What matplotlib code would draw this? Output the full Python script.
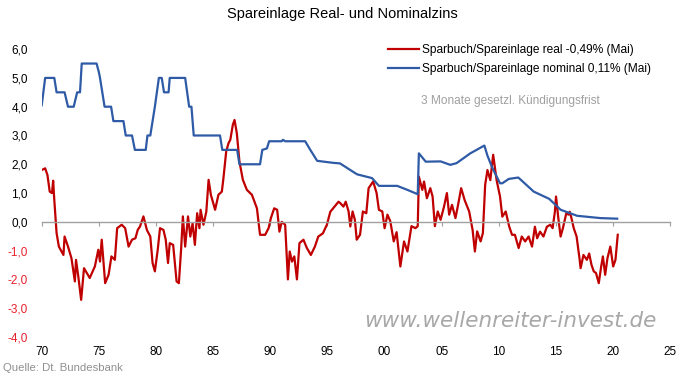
import matplotlib
matplotlib.use("Agg")
import matplotlib.pyplot as plt

plt.rcParams['font.family'] = ['Liberation Sans', 'DejaVu Sans']

title = "Spareinlage Real- und Nominalzins"
label_real = "Sparbuch/Spareinlage real -0,49% (Mai)"
label_nom = "Sparbuch/Spareinlage nominal 0,11% (Mai)"
note = "3 Monate gesetzl. Kündigungsfrist"
source = "Quelle: Dt. Bundesbank"
watermark = "www.wellenreiter-invest.de"

nom_years = [1970.0, 1970.3, 1971.1, 1971.3, 1972.0, 1972.3, 1972.8, 1973.1, 1973.35, 1973.5,
             1974.8, 1975.0, 1975.1, 1975.5, 1976.07, 1976.27, 1977.15, 1977.35, 1977.9, 1978.15,
             1979.1, 1979.25, 1979.5, 1979.7, 1979.9, 1980.25, 1980.5, 1980.7, 1981.1, 1981.2,
             1982.55, 1982.9, 1983.1, 1983.3, 1985.6, 1985.8, 1987.1, 1987.3, 1989.1, 1989.3,
             1989.7, 1989.9, 1991.0, 1991.1, 1991.3, 1993.05, 1993.5, 1994.1, 1995.5, 1996.1,
             1997.0, 1997.6, 1998.9, 1999.5, 2001.1, 2002.0, 2002.9, 2003.0, 2003.6, 2004.9,
             2005.75, 2006.3, 2007.5, 2008.73, 2009.0, 2009.4, 2010.1, 2010.3, 2010.86, 2011.7,
             2013.05, 2014.4, 2015.4, 2016.85, 2018.9, 2020.35]
nom_vals = [4.05, 5.0, 5.0, 4.5, 4.5, 4.0, 4.0, 4.5, 4.5, 5.5,
            5.5, 5.2, 5.0, 4.0, 4.0, 3.5, 3.5, 3.0, 3.0, 2.5,
            2.5, 3.0, 3.0, 3.5, 4.0, 5.0, 5.0, 4.5, 4.5, 5.0,
            5.0, 4.0, 4.0, 3.0, 3.0, 2.5, 2.5, 2.0, 2.0, 2.5,
            2.55, 2.8, 2.8, 2.85, 2.8, 2.8, 2.5, 2.12, 2.05, 2.03,
            1.8, 1.65, 1.52, 1.25, 1.25, 1.11, 0.96, 2.38, 2.09, 2.1,
            1.98, 2.04, 2.38, 2.65, 2.3, 1.9, 1.34, 1.34, 1.49, 1.54,
            1.05, 0.80, 0.42, 0.21, 0.13, 0.11]

real_years = [1970.0, 1970.3, 1970.5, 1970.7, 1970.9, 1971.0, 1971.1, 1971.3, 1971.5, 1971.9,
              1972.0, 1972.3, 1972.6, 1972.9, 1973.0, 1973.2, 1973.45, 1973.7, 1974.2, 1974.65,
              1974.95, 1975.1, 1975.25, 1975.55, 1975.85, 1976.1, 1976.4, 1976.6, 1977.0, 1977.3,
              1977.6, 1977.9, 1978.2, 1978.4, 1978.6, 1978.9, 1979.2, 1979.5, 1979.7, 1979.9,
              1980.15, 1980.35, 1980.65, 1980.85, 1981.05, 1981.2, 1981.5, 1981.8, 1982.0, 1982.2,
              1982.35, 1982.55, 1982.8, 1983.0, 1983.2, 1983.4, 1983.6, 1983.8, 1983.9, 1984.15,
              1984.4, 1984.6, 1984.8, 1985.17, 1985.46, 1985.76, 1985.9, 1986.14, 1986.34, 1986.5,
              1986.72, 1986.87, 1987.07, 1987.3, 1987.6, 1987.95, 1988.39, 1988.83, 1989.1, 1989.55,
              1989.85, 1990.05, 1990.34, 1990.6, 1990.8, 1991.0, 1991.3, 1991.54, 1991.7, 1991.9,
              1992.1, 1992.33, 1992.55, 1992.9, 1993.2, 1993.55, 1993.9, 1994.2, 1994.6, 1994.95,
              1995.25, 1995.5, 1995.97, 1996.12, 1996.4, 1996.6, 1996.85, 1997.0, 1997.2, 1997.4,
              1997.56, 1997.85, 1998.1, 1998.4, 1998.6, 1999.0, 1999.3, 1999.5, 1999.8, 2000.0,
              2000.25, 2000.5, 2000.8, 2001.05, 2001.38, 2001.7, 2002.0, 2002.35, 2002.7, 2002.9,
              2003.0, 2003.3, 2003.45, 2003.7, 2004.0, 2004.2, 2004.4, 2004.65, 2004.9, 2005.2,
              2005.45, 2005.65, 2005.9, 2006.2, 2006.4, 2006.7, 2007.0, 2007.4, 2007.7, 2007.9,
              2008.1, 2008.4, 2008.6, 2008.8, 2009.0, 2009.25, 2009.5, 2009.8, 2010.1, 2010.3,
              2010.6, 2010.9, 2011.15, 2011.4, 2011.73, 2012.0, 2012.3, 2012.6, 2012.9, 2013.15,
              2013.35, 2013.6, 2013.9, 2014.2, 2014.5, 2014.7, 2014.9, 2015.0, 2015.2, 2015.4,
              2015.6, 2015.9, 2016.1, 2016.2, 2016.35, 2016.55, 2016.8, 2017.05, 2017.15, 2017.4,
              2017.7, 2017.9, 2018.1, 2018.3, 2018.5, 2018.74, 2018.95, 2019.1, 2019.3, 2019.5,
              2019.75, 2020.0, 2020.2, 2020.4]
real_vals = [1.8, 1.86, 1.63, 1.05, 1.0, 1.43, 0.76, -0.39, -0.86, -1.15,
             -0.51, -0.86, -1.26, -2.07, -1.32, -1.9, -2.71, -1.61, -1.95, -1.55,
             -0.97, -1.38, -0.62, -2.13, -1.84, -1.2, -1.32, -0.22, -0.1, -0.22,
             -0.86, -0.62, -0.57, -0.28, -0.16, 0.19, -0.28, -0.51, -1.43, -1.72,
             -0.97, -0.22, -0.28, -0.62, -1.43, -0.74, -0.8, -2.07, -2.13, -0.92,
             0.19, -0.86, 0.19, -0.51, -0.05, -0.8, 0.3, -0.22, 0.42, -0.1,
             0.35, 1.46, 0.94, 0.42, 0.94, 1.05, 1.52, 2.44, 2.73, 2.85,
             3.37, 3.54, 3.08, 2.09, 1.46, 1.11, 0.94, 0.47, -0.45, -0.45,
             -0.22, 0.13, 0.47, 0.42, -0.34, 0.0, -0.1, -2.0, -1.03, -1.38,
             -1.2, -2.0, -0.74, -0.62, -0.91, -1.15, -0.86, -0.51, -0.4, -0.1,
             0.35, 0.47, 0.7, 0.65, 0.53, 0.70, 0.36, -0.16, 0.36, 0.07,
             -0.62, -0.45, 0.36, 0.3, 1.17, 1.4, 1.0, 0.42, 0.36, -0.22,
             0.25, 0.02, -0.68, -0.36, -1.55, -0.68, -1.03, -0.15, -0.22, -0.15,
             1.57, 1.11, 1.4, 0.82, 1.17, 0.88, -0.15, 0.36, 0.07, 0.53,
             1.0, 0.25, 0.59, 0.13, 0.53, 1.17, 0.76, 0.36, -0.28, -1.03,
             -0.33, -0.68, -0.39, 1.29, 1.8, 1.45, 2.33, 1.45, 0.88, 0.18,
             0.36, -0.16, -0.45, -0.45, -0.91, -0.51, -0.68, -0.51, -0.86, -0.17,
             -0.57, -0.34, -0.51, -0.17, -0.1, -0.22, 0.35, 0.88, 0.13, -0.51,
             -0.22, 0.3, 0.25, 0.35, 0.13, -0.22, -0.51, -1.26, -1.61, -1.15,
             -1.32, -1.1, -1.49, -1.72, -1.78, -2.13, -1.55, -1.2, -1.84, -1.26,
             -0.86, -1.55, -1.32, -0.45]

x_ticks = [1970, 1975, 1980, 1985, 1990, 1995, 2000, 2005, 2010, 2015, 2020, 2025]
x_labels = ["70", "75", "80", "85", "90", "95", "00", "05", "10", "15", "20", "25"]
y_ticks = [-4, -3, -2, -1, 0, 1, 2, 3, 4, 5, 6]
y_labels = ["-4,0", "-3,0", "-2,0", "-1,0", "0,0", "1,0", "2,0", "3,0", "4,0", "5,0", "6,0"]

RED = "#C00000"
BLUE = "#2E5AA6"

fig = plt.figure(figsize=(6.84, 3.78), dpi=100)
ax = fig.add_axes([0.061, 0.1085, 0.919, 0.7615])

l_real, = ax.plot(real_years, real_vals, color=RED, lw=1.6, solid_joinstyle='round')
l_nom, = ax.plot(nom_years, nom_vals, color=BLUE, lw=1.6, solid_joinstyle='round')

ax.set_xlim(1970, 2025)
ax.set_ylim(-4, 6)
for s in ['left', 'right', 'top']:
    ax.spines[s].set_visible(False)
ax.spines['bottom'].set_position(('data', 0))
ax.spines['bottom'].set_color('#A0A0A0')
ax.spines['bottom'].set_linewidth(1.0)
ax.set_xticks(x_ticks)
ax.tick_params(axis='x', direction='out', length=3, color='#A0A0A0', labelbottom=False)

sec = ax.secondary_xaxis(0.0)
sec.set_xticks(x_ticks, x_labels)
sec.spines['bottom'].set_visible(False)
sec.tick_params(axis='x', length=0, pad=6.5, labelsize=8.5)

ax.set_yticks(y_ticks, y_labels)
ax.tick_params(axis='y', length=0, pad=10, labelsize=8.5)
for lab, v in zip(ax.get_yticklabels(), y_ticks):
    lab.set_color('#E8202A' if v < 0 else 'black')

fig.text(0.5, 0.962, title, ha='center', va='center', fontsize=10.5)

leg = ax.legend([l_real, l_nom], [label_real, label_nom], loc='upper left',
                bbox_to_anchor=(0.533, 1.055), frameon=False, fontsize=8.6,
                handlelength=2.6, handletextpad=0.3, labelspacing=0.62)

fig.text(0.616, 0.733, note, ha='left', va='center', fontsize=8.6, color='#A0A0A0')
fig.text(0.004, 0.026, source, ha='left', va='center', fontsize=8.2, color='#909090')
fig.text(0.533, 0.152, watermark, ha='left', va='center', fontsize=15.5,
         color='#A8A8A8', style='italic', family=['DejaVu Sans'])

fig.savefig("out.png", dpi=100)
